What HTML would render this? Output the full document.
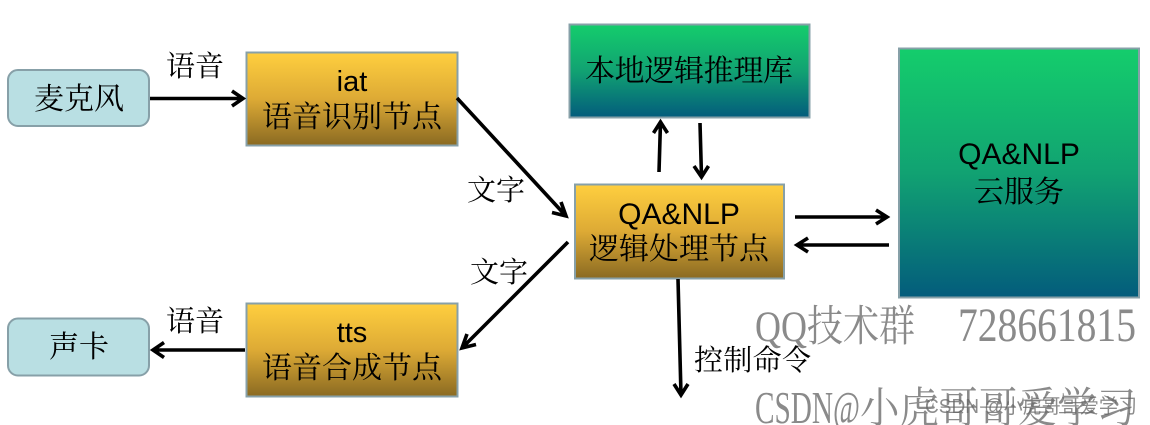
<!DOCTYPE html>
<html><head><meta charset="utf-8">
<style>
html,body{margin:0;padding:0;background:#fff;width:1150px;height:425px;overflow:hidden}
svg{display:block}
text{font-family:"Noto Serif CJK SC","Liberation Serif",serif;fill:#000}
.c{text-anchor:middle}
.l{font-family:"Liberation Sans","Noto Serif CJK SC",sans-serif}
.z{font-size:30px}
.s{font-size:29px}
.n{fill:#8a8a8a;font-family:"Liberation Serif","Noto Serif CJK SC",serif}
</style></head><body>
<svg width="1150" height="425" viewBox="0 0 1150 425" xmlns="http://www.w3.org/2000/svg">
<defs>
<linearGradient id="y" x1="0" y1="0" x2="0" y2="1"><stop offset="0" stop-color="#ffcf3f"/><stop offset=".5" stop-color="#ddaa35"/><stop offset="1" stop-color="#8a6a22"/></linearGradient>
<linearGradient id="g" x1="0" y1="0" x2="0" y2="1"><stop offset="0" stop-color="#14cd6c"/><stop offset=".5" stop-color="#11a272"/><stop offset="1" stop-color="#035c7c"/></linearGradient>
</defs>
<g stroke="#87a0a8" stroke-width="2">
<rect x="8" y="70" width="141" height="56" rx="10" fill="#b9dfe3"/>
<rect x="8" y="318.500" width="141" height="57" rx="10" fill="#b9dfe3"/>
<rect x="246.500" y="52.500" width="211" height="93" fill="url(#y)"/>
<rect x="246.500" y="303.500" width="211" height="93" fill="url(#y)"/>
<rect x="575" y="184.500" width="209" height="94" fill="url(#y)"/>
<rect x="569.500" y="24.500" width="240" height="93" fill="url(#g)"/>
<rect x="899" y="48.500" width="240" height="249" fill="url(#g)"/>
</g>
<g fill="none" stroke="#000" stroke-width="3.600">
<path d="M150 98.500H243M232 91l11 7.500l-11 7.500"/>
<path d="M245 350H153M164 342.500l-11 7.500l11 7.500"/>
<path d="M457 98L566 216M561 202l5 14l-14 -3.500"/>
<path d="M568 242L462 348M467 334l-5 14l14 -3.500"/>
<path d="M659 172L660.500 122M653.500 133l7 -11l7 11"/>
<path d="M700 123L701.500 177M694 166l7.500 11l7 -11"/>
<path d="M795 217H887M876 210l11 7l-11 7"/>
<path d="M889 245H797M808 238l-11 7l11 7"/>
<path d="M678 279L681 395M674 384l7 11l7 -11"/>
</g>
<text class="z c" x="79" y="109">麦克风</text>
<text class="z c" x="79" y="357">声卡</text>
<text class="l c" x="352" y="91" font-size="29">iat</text>
<text class="z c" x="352" y="127">语音识别节点</text>
<text class="l c" x="352" y="342" font-size="29">tts</text>
<text class="z c" x="352" y="378">语音合成节点</text>
<text class="l c" x="679" y="224" font-size="30">QA&amp;NLP</text>
<text class="z c" x="679" y="259">逻辑处理节点</text>
<text class="z c" x="689" y="81" textLength="208">本地逻辑推理库</text>
<text class="l c" x="1019" y="164" font-size="30">QA&amp;NLP</text>
<text class="z c" x="1019" y="202">云服务</text>
<text class="s" x="166" y="76">语音</text>
<text class="s" x="166" y="331">语音</text>
<text class="s" x="467" y="200">文字</text>
<text class="s" x="470" y="282">文字</text>
<text class="s" x="694" y="370" textLength="117">控制命令</text>
<g transform="translate(0 341) scale(1 1.08)"><text class="n" x="755" y="0" font-size="40" textLength="160" lengthAdjust="spacingAndGlyphs">QQ技术群</text><text class="n" x="958" y="0" font-size="44" textLength="178" lengthAdjust="spacingAndGlyphs">728661815</text></g>
<g transform="translate(0 423) scale(1 1.08)"><text class="n" x="755" y="0" font-size="42" textLength="105" lengthAdjust="spacingAndGlyphs">CSDN@</text><text class="n" x="860" y="0" font-size="40" textLength="276" lengthAdjust="spacingAndGlyphs">小虎哥哥爱学习</text></g>
<text x="925" y="413" font-size="20" textLength="212" lengthAdjust="spacingAndGlyphs" style="font-family:'Liberation Sans','Noto Sans CJK SC',sans-serif;fill:#666;opacity:.75">CSDN @小虎哥哥爱学习</text>
</svg>
</body></html>
